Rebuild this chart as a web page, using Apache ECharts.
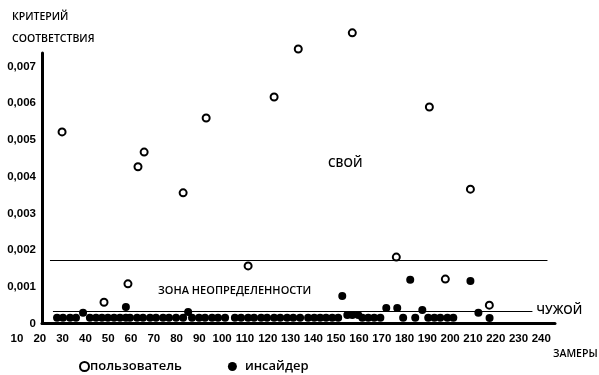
<!DOCTYPE html>
<html>
<head>
<meta charset="utf-8">
<script src="https://cdn.jsdelivr.net/npm/echarts@6/dist/echarts.min.js"></script>
<style>
  html, body { margin: 0; padding: 0; background: #fff; }
  #container { width: 599px; height: 375px; }
</style>
</head>
<body>
<div id="container"></div>
<script>
var dom = document.getElementById("container");
var myChart = echarts.init(dom);

// пользователь (open circles): [замер, критерий]
var userPoints = [
    [29.8, 0.00522], [48.2, 0.00058], [58.7, 0.00108], [63.1, 0.00427],
    [65.8, 0.00467], [82.9, 0.00356], [93.0, 0.00560], [111.4, 0.00157],
    [122.8, 0.00617], [133.4, 0.00748], [157.1, 0.00792], [176.4, 0.00181],
    [190.9, 0.00590], [197.9, 0.00121], [208.9, 0.00366], [217.2, 0.00050]
];

// инсайдер (filled dots)
var insiderPoints = [
    [27.6, 0.00016], [30.2, 0.00016], [33.3, 0.00016], [35.9, 0.00016],
    [39.0, 0.00029], [42.0, 0.00016], [44.7, 0.00016], [47.3, 0.00016],
    [49.9, 0.00016], [52.6, 0.00016], [55.2, 0.00016], [57.8, 0.00045],
    [57.8, 0.00016], [59.6, 0.00016], [62.7, 0.00016], [65.3, 0.00016],
    [68.4, 0.00016], [71.0, 0.00016], [74.1, 0.00016], [76.7, 0.00016],
    [79.8, 0.00016], [82.9, 0.00016], [85.1, 0.00031], [86.8, 0.00016],
    [89.9, 0.00016], [92.5, 0.00016], [95.6, 0.00016], [98.2, 0.00016],
    [101.3, 0.00016], [105.6, 0.00016], [108.3, 0.00016], [111.4, 0.00016],
    [114.0, 0.00016], [117.1, 0.00016], [119.7, 0.00016], [122.8, 0.00016],
    [125.5, 0.00016], [128.5, 0.00016], [131.2, 0.00016], [134.2, 0.00016],
    [137.7, 0.00016], [140.4, 0.00016], [143.0, 0.00016], [145.6, 0.00016],
    [148.3, 0.00016], [150.9, 0.00016], [152.7, 0.00075], [154.9, 0.00023],
    [157.1, 0.00023], [159.7, 0.00023], [161.5, 0.00016], [164.1, 0.00016],
    [166.7, 0.00016], [169.4, 0.00016], [172.0, 0.00042], [176.8, 0.00042],
    [179.4, 0.00016], [182.5, 0.00119], [184.7, 0.00016], [187.8, 0.00037],
    [190.4, 0.00016], [193.1, 0.00016], [195.7, 0.00016], [198.8, 0.00016],
    [201.4, 0.00016], [208.9, 0.00116], [212.4, 0.00029], [217.3, 0.00015]
];

// границы зон: [x начала, x конца, уровень]
var upperBound = [24.5, 242.7, 0.00171];
var lowerBound = [25.8, 236.1, 0.000343];

// ось замеров: видимая часть оси и подписи
var xRange = [21, 246];
var xLabelRange = [5, 246];
var xTickLabels = [10, 20, 30, 40, 50, 60, 70, 80, 90, 100, 110, 120,
                   130, 140, 150, 160, 170, 180, 190, 200, 210, 220, 230, 240];
var yTicks = { min: 0, max: 0.00737, step: 0.001 };

var labelFont = '"Liberation Sans Narrow", "Arial Narrow", sans-serif';
var textFont = '"Open Sans", "Noto Sans", sans-serif';

option = {
    animation: false,
    grid: [
        { left: 42, right: 44, top: 53, bottom: 51.5 },
        { left: 5.6, right: 44, top: 53, bottom: 51.5 }
    ],
    legend: {
        left: 74,
        top: 355,
        itemGap: 46,
        itemWidth: 9,
        itemHeight: 9,
        textStyle: { fontFamily: textFont, fontSize: 13, fontWeight: 600, color: '#000', padding: [0, 0, 0, -4] },
        data: [
            'пользователь',
            { name: 'инсайдер', textStyle: { padding: [0, 0, 0, 3] } }
        ]
    },
    xAxis: [
        {
            type: 'value',
            gridIndex: 0,
            min: xRange[0],
            max: xRange[1],
            splitLine: { show: false },
            axisTick: { show: false },
            axisLabel: { show: false },
            axisLine: { lineStyle: { color: '#000', width: 3 } }
        },
        {
            type: 'value',
            gridIndex: 1,
            min: xLabelRange[0],
            max: xLabelRange[1],
            splitLine: { show: false },
            axisTick: { show: false },
            axisLine: { show: false },
            axisLabel: {
                customValues: xTickLabels,
                margin: 9,
                fontFamily: labelFont, fontWeight: 'bold', fontSize: 11.5, color: '#000'
            }
        }
    ],
    yAxis: [
        {
            type: 'value',
            gridIndex: 0,
            min: yTicks.min,
            max: yTicks.max,
            interval: yTicks.step,
            splitLine: { show: false },
            axisTick: { show: false },
            axisLine: { show: true, lineStyle: { color: '#000', width: 3 } },
            axisLabel: {
                margin: 6,
                fontFamily: labelFont, fontWeight: 'bold', fontSize: 11.5, color: '#000',
                showMaxLabel: false,
                formatter: function (v) {
                    if (v === 0) return '0';
                    return v.toFixed(3).replace('.', ',');
                }
            }
        },
        {
            type: 'value',
            gridIndex: 1,
            show: false,
            min: yTicks.min,
            max: yTicks.max
        }
    ],
    series: [
        {
            name: 'пользователь',
            type: 'scatter',
            xAxisIndex: 0,
            yAxisIndex: 0,
            clip: false,
            symbol: 'circle',
            symbolSize: 7,
            itemStyle: { color: '#fff', borderColor: '#000', borderWidth: 2, opacity: 1 },
            data: userPoints,
            z: 3
        },
        {
            name: 'инсайдер',
            type: 'scatter',
            xAxisIndex: 0,
            yAxisIndex: 0,
            clip: false,
            symbol: 'circle',
            symbolSize: 8,
            itemStyle: { color: '#000', opacity: 1 },
            data: insiderPoints,
            z: 2,
            markLine: {
                silent: true,
                symbol: 'none',
                lineStyle: { color: '#000', width: 1, type: 'solid' },
                data: [
                    [
                        { coord: [upperBound[0], upperBound[2]], label: { show: false } },
                        { coord: [upperBound[1], upperBound[2]] }
                    ],
                    [
                        {
                            coord: [lowerBound[0], lowerBound[2]],
                            label: {
                                show: true, position: 'end', distance: 4,
                                formatter: 'ЧУЖОЙ',
                                fontFamily: textFont, fontSize: 12, fontWeight: 600, color: '#000'
                            }
                        },
                        { coord: [lowerBound[1], lowerBound[2]] }
                    ]
                ]
            }
        }
    ],
    graphic: [
        { type: 'text', left: 12, top: 12, style: { text: 'КРИТЕРИЙ', font: '600 10.5px ' + textFont, fill: '#000' } },
        { type: 'text', left: 12, top: 34, style: { text: 'СООТВЕТСТВИЯ', font: '600 10.5px ' + textFont, fill: '#000' } },
        { type: 'text', left: 328, top: 158, style: { text: 'СВОЙ', font: '600 12px ' + textFont, fill: '#000' } },
        { type: 'text', left: 158, top: 285, style: { text: 'ЗОНА НЕОПРЕДЕЛЕННОСТИ', font: '600 11px ' + textFont, fill: '#000' } },
        { type: 'text', left: 553, top: 349, style: { text: 'ЗАМЕРЫ', font: '600 10.5px ' + textFont, fill: '#000' } }
    ]
};

window.onresize = function () {
    myChart.resize();
};
if (option && typeof option === "object") {
    myChart.setOption(option, true);
}
</script>
</body>
</html>
